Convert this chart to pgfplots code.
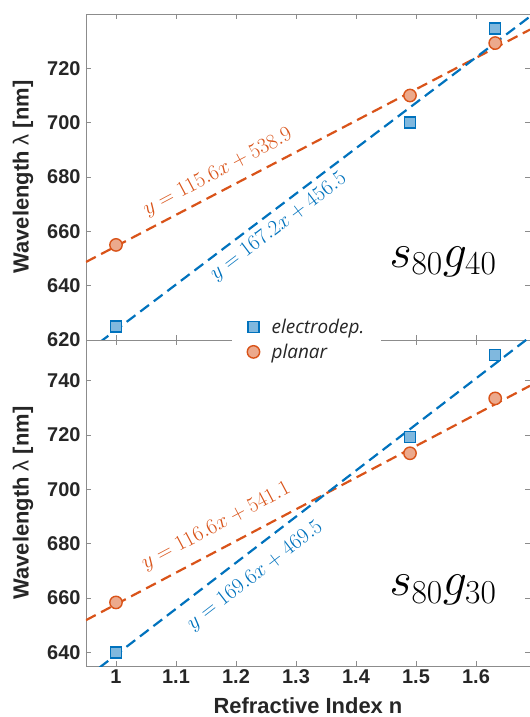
\RequirePackage{fix-cm}
\documentclass[border=0pt]{standalone}
\usepackage{pgfplots}
\pgfplotsset{compat=1.18}
\usepackage{fontspec}
\setmainfont{Liberation Sans}
\newfontfamily\legfont{Open Sans}
\usetikzlibrary{calc}
\definecolor{mblue}{HTML}{0072BD}
\definecolor{morange}{HTML}{D95319}
\definecolor{txt}{HTML}{262626}
\definecolor{axgray}{HTML}{8C8C8C}
\tikzset{eqlab/.style={font=\fontsize{21.5}{26}\selectfont},
         biglab/.style={font=\fontsize{48}{56}\selectfont}}
\pgfplotsset{
  base/.style={
    scale only axis, width=444bp, height=326bp,
    xmin=0.95, xmax=1.69,
    xtick={1,1.1,1.2,1.3,1.4,1.5,1.6},
    tick align=inside,
    major tick length=5bp,
    axis line style={axgray, line width=0.7bp},
    every tick/.style={axgray, line width=0.7bp},
    ticklabel style={font=\fontsize{20}{24}\selectfont\bfseries, text=txt},
    yticklabel style={xshift=-2bp},
    /pgf/number format/assume math mode=true,
    ylabel={Wavelength {\mdseries λ} [nm]},
    every axis y label/.style={at={(rel axis cs:0,0.5)}, xshift=-63bp, rotate=90, anchor=center,
      font=\fontsize{22}{26}\selectfont\bfseries, text=txt},
    every axis x label/.style={at={(rel axis cs:0.5,0)}, yshift=-47bp, anchor=base, inner sep=0pt,
      font=\fontsize{22}{26}\selectfont\bfseries, text=txt},
  },
  fitline/.style={dash pattern=on 11bp off 6bp, line width=2.2bp, forget plot},
  elec/.style={only marks, mark=square*, mark size=5.5bp, color=mblue, mark options={fill=mblue!50!white, draw=mblue, line width=1.4bp, solid}},
  plan/.style={only marks, mark=*, mark size=6.2bp, color=morange, mark options={fill=morange!50!white, draw=morange, line width=1.4bp, solid}},
}
\begin{document}
\begin{tikzpicture}
% ---------- top panel: s80 g40 ----------
\begin{axis}[base, at={(0,326bp)}, anchor=south west,
  ymin=620, ymax=740, ytick={620,640,660,680,700,720},
  xticklabels={}]
  \addplot[fitline, morange] coordinates {(0.95,648.72) (1.69,734.26)};
  \addplot[fitline, mblue] coordinates {(0.95,615.34) (1.69,739.07)};
  \addplot[elec] coordinates {(1,625) (1.49,700) (1.632,734.6)};
  \addplot[plan] coordinates {(1,655) (1.49,710) (1.632,729.3)};
  \node[eqlab, morange, rotate=28] at (axis cs:1.17,681.6) {$y = 115.6x + 538.9$};
  \node[eqlab, mblue, rotate=37.2] at (axis cs:1.271,661.6) {$y = 167.2x + 456.5$};
  \node[biglab] at (axis cs:1.545,648.7) {$s_{80}g_{40}$};
  \coordinate (TR) at (rel axis cs:1,1);
\end{axis}
% ---------- bottom panel: s80 g30 ----------
\begin{axis}[base, at={(0,0)}, anchor=south west,
  ymin=635, ymax=755, ytick={640,660,680,700,720,740},
  xlabel={Refractive Index n},
  legend style={at={(rel axis cs:0.329,1.077)}, anchor=north west, fill=white, draw=none,
    font=\legfont\itshape\fontsize{19}{22}\selectfont, text=txt, legend cell align=left,
    row sep=5bp, inner xsep=15bp, inner ysep=2bp}]
  \addplot[fitline, morange] coordinates {(0.95,651.87) (1.69,738.15)};
  \addplot[fitline, mblue] coordinates {(0.95,630.62) (1.69,756.12)};
  \addplot[elec] coordinates {(1,640) (1.49,719.2) (1.632,749.4)};
  \addplot[plan] coordinates {(1,658.4) (1.49,713.3) (1.632,733.5)};
  \addlegendentry{\hspace*{10bp}electrodep.}
  \addlegendentry{\hspace*{10bp}planar}
  \node[eqlab, morange, rotate=28] at (axis cs:1.167,686.3) {$y = 116.6x + 541.1$};
  \node[eqlab, mblue, rotate=37.6] at (axis cs:1.232,668.2) {$y = 169.6x + 469.5$};
  \node[biglab] at (axis cs:1.545,662.9) {$s_{80}g_{30}$};
  \coordinate (BL) at (rel axis cs:0,0);
\end{axis}
\pgfresetboundingbox
\path[use as bounding box] ($(BL)+(-86bp,-51bp)$) rectangle ($(TR)+(0bp,14bp)$);
\end{tikzpicture}
\end{document}
